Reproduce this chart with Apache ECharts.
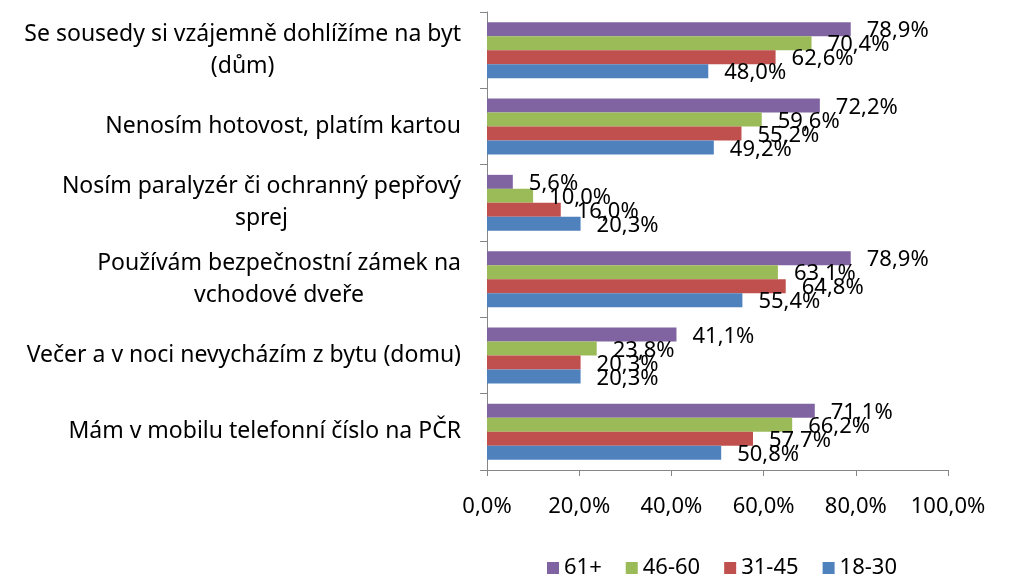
<!DOCTYPE html>
<html>
<head>
<meta charset="utf-8">
<script src="https://cdn.jsdelivr.net/npm/echarts@6/dist/echarts.min.js"></script>
<style>
  html, body { margin: 0; padding: 0; background: #fff; }
  #chart { width: 1009px; height: 577px; }
</style>
</head>
<body>
<div id="chart"></div>
<script>
// kategorie (shora dolů)
var categories = [
  "Se sousedy si vzájemně dohlížíme na byt\n(dům)",
  "Nenosím hotovost, platím kartou",
  "Nosím paralyzér či ochranný pepřový\nsprej",
  "Používám bezpečnostní zámek na\nvchodové dveře",
  "Večer a v noci nevycházím z bytu (domu)",
  "Mám v mobilu telefonní číslo na PČR"
];
var seriesNames = ["61+", "46-60", "31-45", "18-30"];
var vals61 = [78.9, 72.2, 5.6, 78.9, 41.1, 71.1];
var vals4660 = [70.4, 59.6, 10.0, 63.1, 23.8, 66.2];
var vals3145 = [62.6, 55.2, 16.0, 64.8, 20.3, 57.7];
var vals1830 = [48.0, 49.2, 20.3, 55.4, 20.3, 50.8];
var xTicks = [0, 20, 40, 60, 80, 100];

var FONT = "Noto Sans";
var colors = ["#8064A2", "#9BBB59", "#C0504D", "#4F81BD"];

function pct(v) {
  return v.toFixed(1).replace(".", ",") + "%";
}

var chart = echarts.init(document.getElementById("chart"));

function makeSeries(name, data, color) {
  return {
    name: name,
    type: "bar",
    data: data,
    barWidth: 14,
    barGap: "0%",
    itemStyle: { color: color },
    label: {
      show: true,
      position: "right",
      distance: 16,
      offset: [0, 2],
      color: "#000",
      fontFamily: FONT,
      fontSize: 22,
      formatter: function (p) { return pct(p.value); }
    }
  };
}

chart.setOption({
  animation: false,
  grid: { left: 487, right: 61, top: 12, bottom: 107 },
  legend: {
    data: seriesNames,
    left: 542,
    top: 552,
    itemWidth: 12,
    itemHeight: 12,
    itemGap: 24,
    icon: "rect",
    textStyle: { fontFamily: FONT, fontSize: 22, color: "#000" }
  },
  xAxis: {
    type: "value",
    min: xTicks[0],
    max: xTicks[xTicks.length - 1],
    interval: 20,
    splitLine: { show: false },
    axisLine: { show: true, lineStyle: { color: "#868686" } },
    axisTick: { show: true, length: 6, lineStyle: { color: "#868686" } },
    axisLabel: {
      margin: 26,
      color: "#000",
      fontFamily: FONT,
      fontSize: 22,
      formatter: function (v) { return pct(v); }
    }
  },
  yAxis: {
    type: "category",
    inverse: true,
    data: categories,
    axisLine: { show: true, lineStyle: { color: "#868686" } },
    axisTick: { show: true, length: 7, lineStyle: { color: "#868686" } },
    axisLabel: {
      margin: 26,
      color: "#000",
      fontFamily: FONT,
      fontSize: 23,
      lineHeight: 32,
      formatter: function (v) {
        return v.split("\n").map(function (l) { return "{c|" + l + "}"; }).join("\n");
      },
      rich: {
        c: { align: "center", fontFamily: FONT, fontSize: 23, lineHeight: 32, color: "#000" }
      }
    }
  },
  series: [
    makeSeries(seriesNames[0], vals61, colors[0]),
    makeSeries(seriesNames[1], vals4660, colors[1]),
    makeSeries(seriesNames[2], vals3145, colors[2]),
    makeSeries(seriesNames[3], vals1830, colors[3])
  ]
});

window.addEventListener("resize", function () {
  chart.resize();
});
</script>
</body>
</html>
